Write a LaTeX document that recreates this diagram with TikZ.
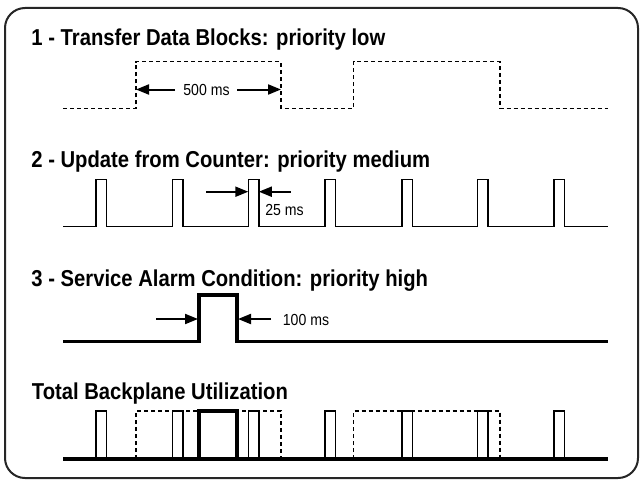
\documentclass[tikz,border=0pt]{standalone}
\usepackage{fontspec}
\newfontfamily\condfont{Liberation Sans}[FakeStretch=0.88]
\usepackage{tikz}
\usetikzlibrary{arrows.meta}
\tikzset{>={Triangle[length=6.5pt,width=5pt]}}
\tikzset{
  title/.style={anchor=base west,inner sep=0pt,font=\condfont\bfseries\fontsize{11.5}{13}\selectfont},
  lbl/.style={anchor=base,inner sep=0pt,font=\condfont\fontsize{8}{9}\selectfont},
  sig/.style={line width=0.7pt},
  thick sig/.style={line width=1.7pt},
  dsig/.style={line width=0.75pt,dash pattern=on 2pt off 1.5pt},
  dim/.style={->,line width=1pt}
}

\begin{document}
\begin{tikzpicture}[x=0.5pt,y=-0.5pt]
\useasboundingbox (0,0) rectangle (640,481);
\draw [line width=1pt,black!85,rounded corners=10pt] (5,8) rectangle (638,478);

\node[title] (t1) at (31,46) {1 - Transfer Data Blocks: priority low};
\node[title] (t2) at (31,167) {2 - Update from Counter: priority medium};
\node[title] (t3) at (31,286) {3 - Service Alarm Condition: priority high};
\node[title] (t4) at (31.5,399) {Total Backplane Utilization};

\draw[dsig] (63,108.3) -| (136,61.7) -| (281,108.3) -| (353.5,61.7) -| (500,108.3) -- (608,108.3);
\node[lbl] (l500) at (206.5,95.5) {500 ms};
\coordinate (a1) at (175,89.5);
\coordinate (a1e) at (136,89.5);
\coordinate (b1) at (237,89.5);
\coordinate (b1e) at (281,89.5);
\draw[dim] (a1) -- (a1e);
\draw[dim] (b1) -- (b1e);

\draw[sig] (63,226.5) -| (96,179.5) -| (106.5,226.5) -| (172.3,179.5) -| (182.8,226.5)
  -| (248.3,179.5) -| (258.8,226.5) -| (325,179.5) -| (335.5,226.5) -| (401.8,179.5)
  -| (412.3,226.5) -| (477.5,179.5) -| (488,226.5) -| (554,179.5) -| (564.5,226.5) -- (608,226.5);
\node[lbl] (l25) at (284.5,215) {25 ms};
\coordinate (a2) at (206,191.7);
\coordinate (a2e) at (248.3,191.7);
\coordinate (b2) at (290.5,191.7);
\coordinate (b2e) at (258.8,191.7);
\draw[dim] (a2) -- (a2e);
\draw[dim] (b2) -- (b2e);

\draw[thick sig] (63,341.7) -| (199,295) -| (237,341.7) -- (608,341.7);
\node[lbl] (l100) at (306,325) {100 ms};
\coordinate (a3) at (156,319);
\coordinate (a3e) at (198,319);
\coordinate (b3) at (271,319);
\coordinate (b3e) at (238,319);
\draw[dim] (a3) -- (a3e);
\draw[dim] (b3) -- (b3e);

\draw[dsig] (136,459) |- (281,411) -- (281,459);
\draw[dsig] (353.5,459) |- (500,411) -- (500,459);
\draw[sig] (96,459) |- (106.5,411) -- (106.5,459);
\draw[sig] (172.3,459) |- (182.8,411) -- (182.8,459);
\draw[sig] (248.3,459) |- (258.8,411) -- (258.8,459);
\draw[sig] (325,459) |- (335.5,411) -- (335.5,459);
\draw[sig] (401.8,459) |- (412.3,411) -- (412.3,459);
\draw[sig] (477.5,459) |- (488,411) -- (488,459);
\draw[sig] (554,459) |- (564.5,411) -- (564.5,459);
\draw[thick sig] (199,459) |- (237,411) -- (237,459);
\draw[thick sig] (63,459) -- (608,459);
\end{tikzpicture}
\end{document}
